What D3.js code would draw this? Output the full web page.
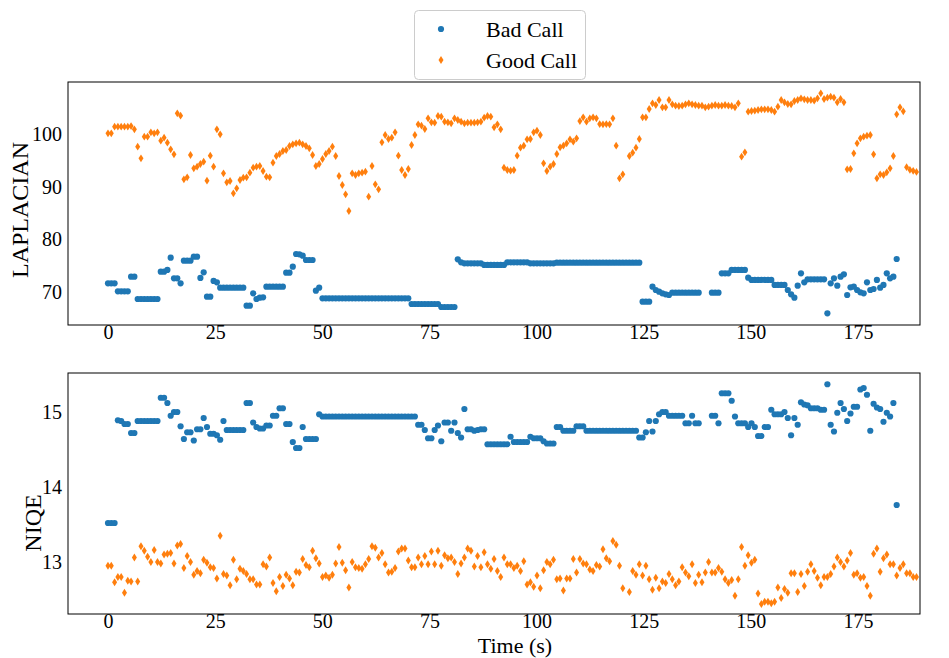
<!DOCTYPE html>
<html>
<head>
<meta charset="utf-8">
<script src="https://cdn.jsdelivr.net/npm/d3@7"></script>
<style>
  body { margin: 0; background: #fff; }
  svg text { font-family: "Liberation Serif", "Times New Roman", serif; fill: #000; }
</style>
</head>
<body>
<svg id="chart" width="949" height="658"></svg>
<script>
// Sampling interval between frames, in seconds
const frameStep = 0.77;

const seriesNames = ["Bad Call", "Good Call"];
const seriesColors = ["#1f77b4", "#ff7f0e"];

// LAPLACIAN score per frame (null = frame missing)
const laplacianBad = [
  71.64, 71.64, 71.64, 70.12, 70.12, 70.12, 70.12, 72.91, 72.91, 68.67,
  68.67, 68.67, 68.67, 68.67, 68.67, 68.67, 73.86, 73.86, 74.18, 76.52,
  72.59, 72.59, 71.64, 75.95, 75.95, 75.95, 76.71, 76.71, 72.66, 73.73,
  69.11, 69.11, 72.09, 71.83, 70.82, 70.82, 70.82, 70.82, 70.82, 70.82,
  70.82, 70.82, 67.40, 67.40, 69.75, 68.67, 68.92, 68.99, 71.01, 71.01,
  71.01, 71.01, 71.01, 71.01, 73.67, 73.67, 74.81, 77.21, 77.15, 76.90,
  76.07, 76.07, 76.07, 70.25, 70.82, 68.80, 68.80, 68.80, 68.80, 68.80,
  68.80, 68.80, 68.80, 68.80, 68.80, 68.80, 68.80, 68.80, 68.80, 68.80,
  68.80, 68.80, 68.80, 68.80, 68.80, 68.80, 68.80, 68.80, 68.80, 68.80,
  68.80, 68.80, 67.72, 67.72, 67.72, 67.72, 67.72, 67.72, 67.72, 67.72,
  67.72, 67.15, 67.15, 67.15, 67.15, 67.15, 76.20, 75.63, 75.44, 75.44,
  75.44, 75.44, 75.44, 75.44, 75.13, 75.13, 75.13, 75.13, 75.13, 75.13,
  75.13, 75.63, 75.63, 75.63, 75.63, 75.63, 75.63, 75.63, 75.44, 75.44,
  75.44, 75.44, 75.44, 75.44, 75.44, 75.44, 75.57, 75.57, 75.57, 75.57,
  75.57, 75.57, 75.57, 75.57, 75.57, 75.57, 75.57, 75.57, 75.57, 75.57,
  75.57, 75.57, 75.57, 75.57, 75.57, 75.57, 75.57, 75.57, 75.57, 75.57,
  75.57, 75.57, 68.16, 68.16, 68.16, 71.01, 70.38, 70.06, 69.75, 69.56,
  69.43, 69.87, 69.87, 69.87, 69.87, 69.87, 69.87, 69.87, 69.87, 69.87,
  null, null, null, 69.87, 69.87, 69.87, 73.54, 73.54, 73.54, 74.18,
  74.18, 74.18, 74.18, 74.18, 72.72, 72.28, 72.28, 72.28, 72.28, 72.28,
  72.28, 72.28, 71.33, 71.33, 71.33, 71.33, 70.38, 69.56, 68.92, 71.20,
  73.54, 71.83, 72.40, 72.40, 72.40, 72.40, 72.40, 72.40, 65.95, 71.64,
  72.59, 71.20, 72.91, 73.35, 69.43, 70.88, 71.01, 70.38, 69.94, 69.75,
  71.83, 70.38, 70.57, 72.28, 70.82, 71.33, 73.54, 72.59, 72.91, 76.26
];

const laplacianGood = [
  100.12, 100.12, 101.39, 101.39, 101.39, 101.39, 101.39, 101.50, 100.88, 97.59,
  95.38, 99.49, 99.49, 100.31, 100.12, 100.31, 98.73, 99.30, 98.35, 97.08,
  96.14, 103.92, 103.48, 91.39, 91.77, 96.01, 93.48, 93.79, 94.30, 94.74,
  91.14, 95.88, 93.79, 100.88, 99.93, 92.53, 90.82, 91.07, 88.73, 89.68,
  91.26, 91.71, 91.77, 92.65, 93.60, 93.79, 93.92, 92.97, 91.90, 91.77,
  94.55, 95.82, 96.20, 96.77, 96.96, 97.72, 98.03, 98.22, 98.35, 98.03,
  97.72, 97.27, 96.01, 93.92, 94.30, 95.25, 96.20, 96.77, 97.59, 95.82,
  92.02, 90.31, 88.54, 85.38, 92.53, 92.21, 92.53, 92.65, 92.84, 88.10,
  93.92, 90.44, 89.49, 98.41, 99.81, 99.05, 99.30, 100.31, 95.88, 93.16,
  92.21, 93.35, 97.91, 99.81, 101.83, 101.58, 100.95, 102.97, 102.21, 102.15,
  103.41, 103.29, 102.34, 102.21, 102.02, 102.97, 102.65, 102.34, 102.02, 102.15,
  102.15, 102.15, 102.21, 102.34, 103.10, 103.41, 103.29, 101.26, 101.83, 100.88,
  93.60, 93.16, 93.03, 93.16, 95.88, 97.40, 97.78, 98.98, 99.05, 100.31,
  100.63, 99.81, 94.43, 92.97, 93.79, 94.30, 96.20, 97.46, 97.78, 98.22,
  98.98, 98.54, 99.17, 102.46, 103.16, 102.34, 102.97, 103.16, 102.97, 101.89,
  101.83, 101.89, 101.83, 102.97, 97.78, 91.58, 92.34, null, 95.82, 96.45,
  97.40, 99.05, 103.16, 103.16, 104.74, 105.82, 105.50, 106.45, 105.06, 105.06,
  106.45, 105.63, 105.38, 105.31, 105.38, 105.63, 105.82, 105.63, 105.50, 105.38,
  105.38, 105.06, 105.19, 105.38, 105.50, 105.38, 105.38, 105.50, 105.38, 105.31,
  105.06, 105.82, 95.69, 96.52, 104.24, 104.36, 104.43, 104.55, 104.68, 104.68,
  104.68, 104.55, 104.24, 105.19, 106.45, 106.01, 105.69, 105.63, 106.26, 106.45,
  106.77, 106.58, 106.45, 106.45, 106.33, 106.77, 107.72, 106.64, 106.90, 107.08,
  106.90, 106.01, 106.64, 106.01, 93.29, 93.35, 96.33, 98.22, 99.17, 99.49,
  99.68, 99.81, 96.14, 91.58, 92.34, 92.21, 92.72, 93.48, 95.82, 103.73,
  105.06, 104.30, 93.70, 93.20, 93.00, 92.80
];

// NIQE score per frame (null = frame missing)
const niqeBad = [
  13.52, 13.52, 13.52, 14.89, 14.88, 14.84, 14.84, 14.72, 14.72, 14.88,
  14.88, 14.88, 14.88, 14.88, 14.88, 14.88, 15.19, 15.19, 15.12, 14.95,
  15.00, 15.00, 14.81, 14.64, 14.73, 14.73, 14.62, 14.77, 14.77, 14.92,
  14.80, 14.71, 14.71, 14.69, 14.63, 14.88, 14.76, 14.76, 14.76, 14.76,
  14.76, 14.76, 15.12, 15.12, 14.86, 14.80, 14.78, 14.78, 14.82, 14.82,
  14.95, 14.95, 15.05, 15.05, 14.84, 14.84, 14.60, 14.52, 14.52, 14.80,
  14.64, 14.64, 14.64, 14.64, 14.97, 14.94, 14.94, 14.94, 14.94, 14.94,
  14.94, 14.94, 14.94, 14.94, 14.94, 14.94, 14.94, 14.94, 14.94, 14.94,
  14.94, 14.94, 14.94, 14.94, 14.94, 14.94, 14.94, 14.94, 14.94, 14.94,
  14.94, 14.94, 14.94, 14.94, 14.83, 14.83, 14.76, 14.65, 14.65, 14.76,
  14.82, 14.61, 14.86, 14.86, 14.75, 14.86, 14.72, 14.66, 15.04, 14.77,
  14.77, 14.75, 14.76, 14.77, 14.77, 14.57, 14.57, 14.57, 14.57, 14.57,
  14.57, 14.57, 14.67, 14.60, 14.60, 14.60, 14.60, 14.60, 14.67, 14.65,
  14.65, 14.65, 14.61, 14.58, 14.58, 14.58, 14.80, 14.80, 14.75, 14.75,
  14.75, 14.75, 14.81, 14.81, 14.81, 14.75, 14.75, 14.75, 14.75, 14.75,
  14.75, 14.75, 14.75, 14.75, 14.75, 14.75, 14.75, 14.75, 14.75, 14.75,
  14.75, 14.66, 14.66, 14.73, 14.88, 14.74, 14.88, 14.97, 15.00, 15.00,
  14.95, 14.95, 14.95, 14.95, 14.95, 14.85, 14.85, 14.95, 14.85, 14.85,
  null, null, null, 14.95, 14.95, 14.85, 15.25, 15.25, 15.25, 15.15,
  14.94, 14.85, 14.85, 14.85, 14.80, 14.85, 14.80, 14.68, 14.68, 14.80,
  14.80, 15.03, 14.97, 14.97, 14.97, 15.00, 14.92, 14.69, 14.92, 14.83,
  15.13, 15.10, 15.09, 15.05, 15.05, 15.05, 15.03, 15.03, 15.37, 14.83,
  14.74, 14.99, 15.12, 15.04, 14.88, 14.98, 15.07, 15.07, 15.30, 15.32,
  15.23, 14.75, 15.11, 15.06, 15.04, 14.87, 14.99, 14.94, 15.12, 13.76
];

const niqeGood = [
  12.95, 12.95, 12.73, 12.80, 12.80, 12.59, 12.75, 12.74, 13.06, 12.74,
  13.21, 13.15, 13.07, 13.00, 13.16, 13.00, 12.98, 13.10, 13.11, 13.12,
  12.98, 13.22, 13.24, 12.92, 13.08, 13.00, 12.83, 12.88, 12.85, 13.03,
  12.99, 12.93, 12.92, 12.78, 13.35, 12.84, 12.82, 12.69, 13.03, 12.77,
  12.91, 12.88, 12.84, 12.77, 12.77, 12.70, 12.70, 12.97, 12.94, 13.06,
  12.72, 12.61, 12.80, 12.68, 12.83, 12.78, 12.69, 12.87, 12.86, 13.04,
  12.96, 12.93, 13.15, 13.05, 12.98, 12.80, 12.82, 12.79, 12.83, 12.98,
  13.20, 12.99, 12.89, 12.66, 13.00, 12.93, 12.92, 12.91, 12.97, 13.04,
  13.21, 13.19, 13.06, 13.12, 12.97, 12.86, 12.87, 12.92, 13.14, 13.18,
  13.18, 13.02, 12.93, 12.93, 13.06, 12.97, 13.08, 12.97, 13.14, 12.97,
  13.15, 12.95, 13.09, 13.05, 13.06, 13.00, 12.84, 12.98, 13.06, 13.18,
  13.15, 12.94, 13.08, 12.93, 13.13, 12.97, 12.91, 13.04, 12.88, 12.80,
  13.06, 12.97, 12.97, 12.92, 12.95, 12.88, 13.01, 12.70, 12.73, 12.67,
  12.82, 12.65, 12.89, 13.00, 12.97, 13.03, 12.77, 12.78, 12.62, 12.78,
  12.78, 13.04, 12.86, 13.04, 12.98, 12.97, 12.90, 12.88, 12.96, 12.94,
  13.17, 13.05, 13.01, 13.28, 13.23, 12.95, 12.65, null, 12.60, 12.88,
  12.83, 12.97, 12.82, 12.95, 12.77, 12.63, 12.79, 12.65, 12.74, 12.72,
  12.84, 12.77, 12.69, 12.74, 12.93, 12.86, 12.81, 12.97, 12.72, 12.83,
  12.73, 12.86, 13.00, 12.86, 12.86, 12.92, 12.87, 12.77, 12.72, 12.76,
  12.55, 12.77, 13.20, 12.95, 13.09, 12.99, 13.03, 12.58, 12.44, 12.47,
  12.47, 12.45, 12.47, 12.66, 12.52, 12.64, 12.59, 12.85, 12.85, 12.60,
  12.84, 12.68, 12.87, 12.97, 12.88, 12.79, 12.69, 12.80, 12.80, 12.84,
  12.94, 13.06, 13.00, 12.94, 13.02, 13.12, 12.83, 12.85, 12.79, 12.80,
  12.68, 12.55, 13.11, 13.18, 12.87, 13.05, 13.10, 12.97, 12.97, 12.82,
  12.92, 12.97, 12.85, 12.85, 12.80, 12.80
];

const xTicks = [0, 25, 50, 75, 100, 125, 150, 175];
const laplacianTicks = [70, 80, 90, 100];
const niqeTicks = [13, 14, 15];

const svg = d3.select("#chart");

const plotLeft = 68, plotRight = 920;
const x = d3.scaleLinear().domain([-9.33, 189.47]).range([plotLeft, plotRight]);

const panels = [
  {
    label: "LAPLACIAN", top: 82, bottom: 325, domain: [63.73, 109.87],
    ticks: laplacianTicks, series: [laplacianBad, laplacianGood], labelX: 20, labelY: 210
  },
  {
    label: "NIQE", top: 373, bottom: 614, domain: [12.307, 15.52],
    ticks: niqeTicks, series: [niqeBad, niqeGood], labelX: 33, labelY: 523
  }
];

const diamond = (w, h) => `M0,${-h}L${w},0L0,${h}L${-w},0Z`;

panels.forEach(p => {
  const y = d3.scaleLinear().domain(p.domain).range([p.bottom, p.top]);
  const g = svg.append("g");

  // points: Bad Call as circles, Good Call as thin diamonds
  p.series.forEach((vals, si) => {
    const pts = vals.map((v, i) => ({ t: i * frameStep, v })).filter(d => d.v !== null);
    const sg = g.append("g").attr("fill", seriesColors[si]);
    if (si === 0) {
      sg.selectAll("circle").data(pts).join("circle")
        .attr("cx", d => x(d.t)).attr("cy", d => y(d.v)).attr("r", 3.1);
    } else {
      sg.selectAll("path").data(pts).join("path")
        .attr("transform", d => `translate(${x(d.t)},${y(d.v)})`)
        .attr("d", diamond(2.5, 3.9));
    }
  });

  // frame
  g.append("rect")
    .attr("x", plotLeft).attr("y", p.top)
    .attr("width", plotRight - plotLeft).attr("height", p.bottom - p.top)
    .attr("fill", "none").attr("stroke", "#000").attr("stroke-width", 1);

  const xa = g.append("g").attr("transform", `translate(0,${p.bottom})`)
    .call(d3.axisBottom(x).tickValues(xTicks).tickSize(0).tickPadding(0).tickFormat(d3.format("d")));
  const ya = g.append("g").attr("transform", `translate(${plotLeft},0)`)
    .call(d3.axisLeft(y).tickValues(p.ticks).tickSize(0).tickPadding(6).tickFormat(d3.format("d")));
  [xa, ya].forEach(a => {
    a.select(".domain").remove();
    a.selectAll("text").attr("font-size", 20).attr("font-family", "Liberation Serif");
  });

  g.append("text")
    .attr("transform", `translate(${p.labelX},${p.labelY}) rotate(-90)`)
    .attr("text-anchor", "middle").attr("dy", "0.35em")
    .attr("font-size", 24).text(p.label);
});

svg.append("text").attr("x", 515).attr("y", 653)
  .attr("text-anchor", "middle").attr("font-size", 22).text("Time (s)");

// legend
const lg = svg.append("g");
lg.append("rect").attr("x", 414.5).attr("y", 10.5).attr("width", 171).attr("height", 69)
  .attr("rx", 4).attr("fill", "#fff").attr("stroke", "#cccccc");
seriesNames.forEach((name, i) => {
  const cy = 29 + i * 31;
  if (i === 0) {
    lg.append("circle").attr("cx", 441).attr("cy", cy).attr("r", 3.1).attr("fill", seriesColors[i]);
  } else {
    lg.append("path").attr("transform", `translate(441,${cy})`).attr("d", diamond(2.5, 3.9)).attr("fill", seriesColors[i]);
  }
  lg.append("text").attr("x", 486).attr("y", cy).attr("dy", "0.35em").attr("font-size", 22).text(name);
});
</script>
</body>
</html>
